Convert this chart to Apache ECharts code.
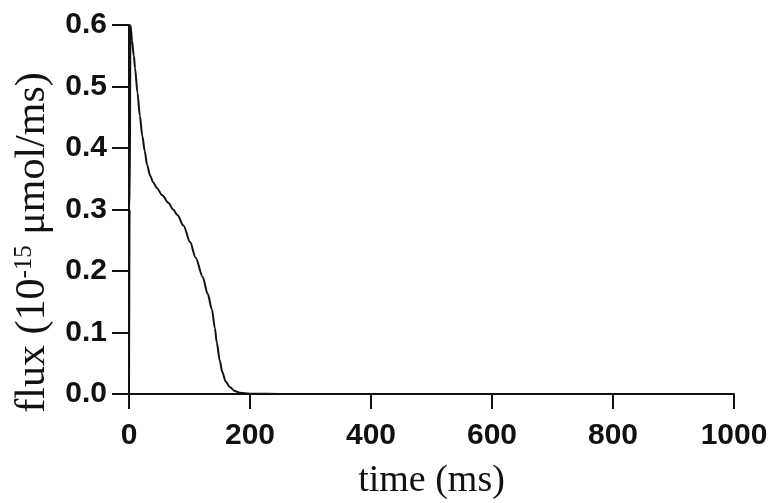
<!DOCTYPE html>
<html>
<head>
<meta charset="utf-8">
<script src="https://cdn.jsdelivr.net/npm/echarts@6/dist/echarts.min.js"></script>
<style>
html,body{margin:0;padding:0;background:#fff;}
#chart{width:782px;height:503px;}
</style>
</head>
<body>
<div id="chart"></div>
<script>
const timeMs = [0, 1, 2.5, 5, 8, 10, 14, 18, 22, 26, 30, 35, 40, 46, 55, 65, 73, 80, 90, 101, 110, 122, 130, 137, 142, 145, 150, 154, 160, 167, 175, 183, 200, 250, 400, 600, 800, 1000];
const flux   = [0, 0.3, 0.6, 0.575, 0.55, 0.53, 0.49, 0.452, 0.42, 0.395, 0.372, 0.355, 0.344, 0.335, 0.323, 0.311, 0.300, 0.291, 0.274, 0.247, 0.222, 0.19, 0.163, 0.138, 0.107, 0.084, 0.055, 0.036, 0.02, 0.011, 0.005, 0.002, 0.0005, 0, 0, 0, 0, 0];
const xTicks = [0, 200, 400, 600, 800, 1000];
const yTicks = [0.0, 0.1, 0.2, 0.3, 0.4, 0.5, 0.6];

const data = timeMs.map((t, i) => [t, flux[i]]);
const chart = echarts.init(document.getElementById('chart'), null, {renderer: 'canvas'});
chart.setOption({
  animation: false,
  backgroundColor: '#fff',
  grid: {left: 129, right: 48, top: 25, bottom: 109, containLabel: false, outerBoundsMode: 'none'},
  xAxis: {
    type: 'value', min: xTicks[0], max: xTicks[xTicks.length - 1], interval: 200,
    name: 'time (ms)', nameLocation: 'middle', nameGap: 68,
    nameTextStyle: {fontFamily: 'Liberation Serif', fontSize: 38, color: '#111'},
    axisLine: {show: true, onZero: false, lineStyle: {color: '#111', width: 2}},
    axisTick: {show: true, inside: false, length: 15, lineStyle: {color: '#111', width: 2}},
    axisLabel: {margin: 27, fontFamily: 'Liberation Sans', fontWeight: 'bold', fontSize: 30, color: '#111',
      formatter: v => String(v)},
    splitLine: {show: false}
  },
  yAxis: {
    type: 'value', min: yTicks[0], max: yTicks[yTicks.length - 1], interval: 0.1,
    name: '{a|flux (10}{s|-15}{a| \u03bcmol/ms)}', nameLocation: 'middle', nameGap: 72, nameRotate: 90,
    nameTextStyle: {
      padding: [0, 66, 0, 0],
      rich: {
        a: {fontFamily: 'Liberation Serif', fontSize: 42, color: '#111'},
        s: {fontFamily: 'Liberation Serif', fontSize: 25, color: '#111', verticalAlign: 'top', padding: [0, 0, 16, 0]}
      }
    },
    axisLine: {show: true, onZero: false, lineStyle: {color: '#111', width: 2}},
    axisTick: {show: true, inside: false, length: 17, lineStyle: {color: '#111', width: 2}},
    axisLabel: {margin: 22, fontFamily: 'Liberation Sans', fontWeight: 'bold', fontSize: 30, color: '#111',
      formatter: v => v.toFixed(1)},
    splitLine: {show: false}
  },
  series: [{
    type: 'line', data: data, showSymbol: false, smooth: 0.3, smoothMonotone: 'x',
    lineStyle: {color: '#111', width: 2}
  }]
});
</script>
</body>
</html>
